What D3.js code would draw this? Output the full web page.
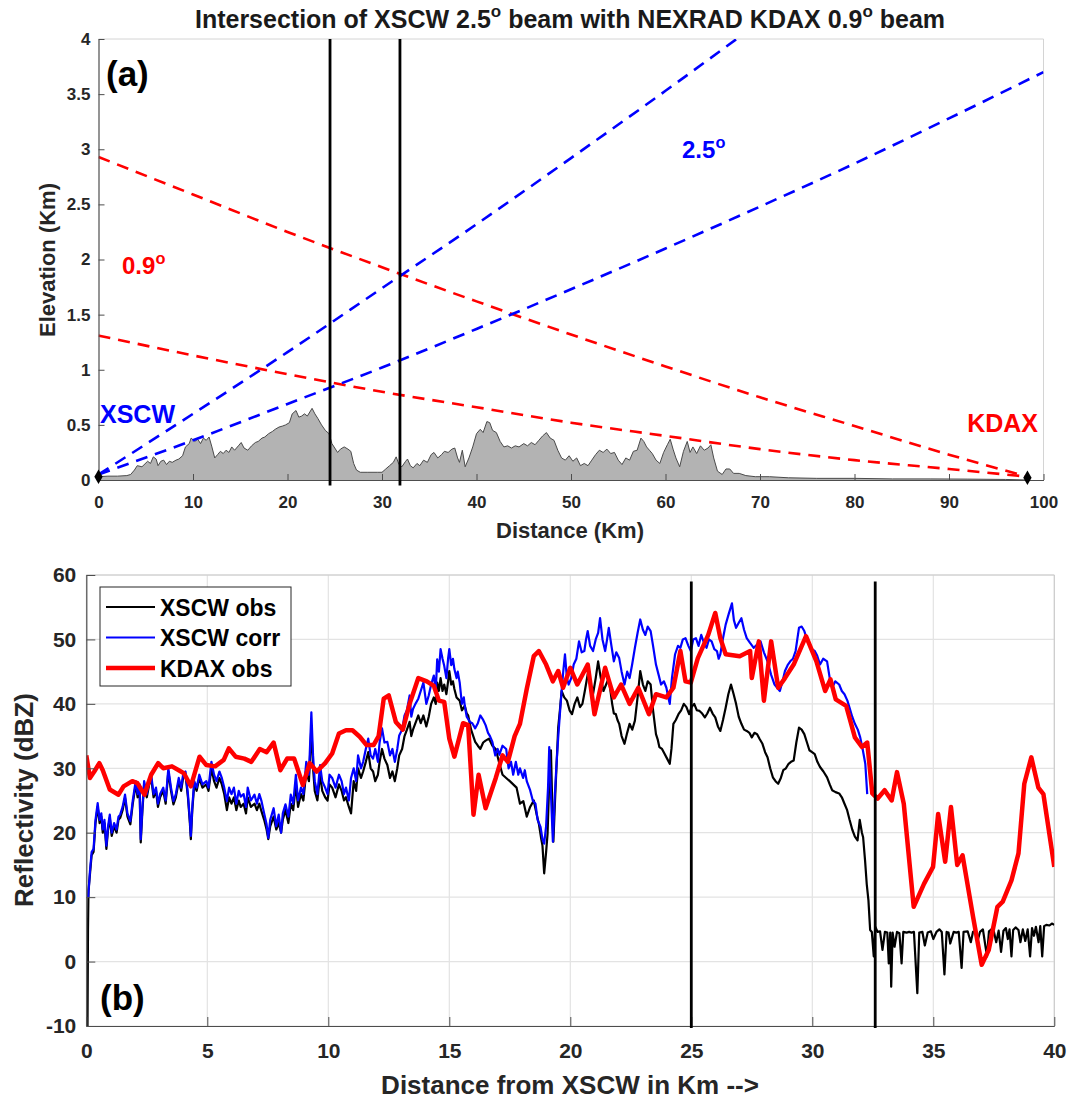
<html>

<head>
    <style>
        body { margin: 0; background: #fff; }
        text { font-family: Arial, "Liberation Sans", Helvetica, sans-serif; font-weight: bold; }
    </style>
</head>

<body>
    <svg id="chart" width="1067" height="1101"></svg>
</body>
<script src="https://d3js.org/d3.v7.min.js"></script>
<script>
    // ---------- panel (a): beam geometry ----------
    // terrain profile [km, elevation km]
    let terrain = [[0,0.03],[1,0.035],[2,0.035],[3,0.04],[3.4,0.05],[3.8,0.09],[4.1,0.13],[4.6,0.12],[5.2,0.17],[5.5,0.15],[5.8,0.21],[6.1,0.19],[6.3,0.13],[6.6,0.17],[6.9,0.18],[7.2,0.14],[7.5,0.17],[7.8,0.16],[8.2,0.18],[8.5,0.19],[8.9,0.22],[9.2,0.3],[9.6,0.33],[9.8,0.38],[10.2,0.35],[10.5,0.37],[10.8,0.33],[11.1,0.38],[11.4,0.36],[11.7,0.39],[12.0,0.3],[12.3,0.2],[12.6,0.23],[12.9,0.26],[13.2,0.24],[13.5,0.27],[13.8,0.25],[14.1,0.3],[14.4,0.27],[14.8,0.31],[15.1,0.34],[15.4,0.29],[15.8,0.27],[16.2,0.31],[16.6,0.34],[16.9,0.35],[17.3,0.38],[17.6,0.39],[18,0.42],[18.4,0.44],[18.7,0.46],[19.1,0.48],[19.5,0.49],[19.8,0.5],[20.2,0.52],[20.5,0.6],[20.9,0.63],[21.2,0.57],[21.5,0.58],[21.8,0.6],[22.1,0.58],[22.6,0.65],[22.9,0.6],[23.2,0.56],[23.6,0.5],[24,0.45],[24.4,0.42],[24.7,0.33],[25.0,0.29],[25.3,0.25],[25.6,0.28],[26.0,0.3],[26.4,0.28],[26.7,0.26],[27.0,0.15],[27.3,0.09],[27.7,0.07],[28.5,0.07],[29.5,0.07],[30.0,0.07],[30.4,0.1],[30.8,0.13],[31.2,0.16],[31.5,0.21],[31.8,0.14],[32.1,0.12],[32.5,0.17],[32.7,0.19],[33.0,0.13],[33.3,0.11],[33.7,0.15],[34.0,0.13],[34.4,0.18],[34.8,0.16],[35.2,0.23],[35.5,0.25],[35.9,0.2],[36.3,0.23],[36.6,0.26],[37.0,0.25],[37.4,0.28],[37.7,0.29],[38.0,0.2],[38.2,0.16],[38.5,0.27],[38.8,0.12],[39.2,0.2],[39.6,0.3],[40,0.42],[40.4,0.46],[40.7,0.43],[41.1,0.53],[41.4,0.52],[41.7,0.45],[42.1,0.43],[42.5,0.35],[42.9,0.3],[43.3,0.31],[43.7,0.29],[44.1,0.31],[44.5,0.3],[45,0.33],[45.4,0.31],[45.8,0.34],[46.2,0.32],[46.6,0.36],[47,0.4],[47.4,0.43],[47.8,0.38],[48.2,0.36],[48.6,0.27],[49,0.2],[49.4,0.18],[49.8,0.22],[50.2,0.17],[50.6,0.2],[51,0.13],[51.4,0.15],[51.8,0.13],[52.2,0.18],[52.6,0.23],[53,0.27],[53.4,0.25],[53.8,0.28],[54.2,0.24],[54.6,0.25],[55,0.18],[55.4,0.14],[55.8,0.2],[56.2,0.18],[56.6,0.26],[57,0.27],[57.4,0.38],[57.7,0.35],[58,0.3],[58.3,0.27],[58.6,0.24],[59,0.18],[59.4,0.15],[59.8,0.25],[60.2,0.32],[60.5,0.37],[60.8,0.28],[61.1,0.2],[61.5,0.12],[61.9,0.26],[62.3,0.35],[62.6,0.25],[62.9,0.3],[63.3,0.24],[63.7,0.31],[64.1,0.27],[64.5,0.29],[64.8,0.32],[65.1,0.2],[65.5,0.08],[66,0.05],[66.4,0.1],[66.8,0.1],[67.2,0.06],[67.8,0.06],[68.5,0.04],[69.5,0.03],[71,0.03],[73,0.02],[76,0.015],[80,0.015],[84,0.01],[88,0.01],[92,0.008],[96,0.005],[98.3,0.0]]

    // beam edges [km, elevation km]
    let xscwUpper = [[0,0.05],[10,0.60],[20,1.16],[30,1.74],[40,2.32],[50,2.92],[60,3.53],[68,4.03]]
    let xscwLower = [[0,0.05],[10,0.36],[20,0.69],[30,1.02],[40,1.37],[50,1.73],[60,2.10],[70,2.48],[80,2.87],[90,3.28],[100,3.70]]
    let kdaxUpper = [[0,2.93],[10,2.59],[20,2.25],[30,1.93],[40,1.62],[50,1.32],[60,1.03],[70,0.75],[80,0.49],[90,0.23],[98.3,0.03]]
    let kdaxLower = [[0,1.31],[10,1.13],[20,0.96],[30,0.80],[40,0.66],[50,0.52],[60,0.40],[70,0.28],[80,0.18],[90,0.10],[98.3,0.03]]

    let radarSites = [{ name: "XSCW", km: 0, elev: 0.03 }, { name: "KDAX", km: 98.3, elev: 0.02 }]
    let topCuts = [24.5, 31.9]
    let topCutSpan = [-0.05, 4]
    let topXTicks = [0, 10, 20, 30, 40, 50, 60, 70, 80, 90, 100]
    let topYTicks = [0, 0.5, 1, 1.5, 2, 2.5, 3, 3.5, 4]

    // ---------- panel (b): reflectivity ----------
    let xscwObs = [[0.05,-10],[0.07,5],[0.09,11],[0.15,13.5],[0.22,16.5],[0.3,17],[0.38,21.5],[0.47,24],[0.55,21.5],[0.62,22.5],[0.68,20],[0.75,21.5],[0.83,17.5],[0.9,20.5],[0.97,22.3],[1.05,19.5],[1.15,21],[1.25,20],[1.33,22],[1.4,22.3],[1.5,23.5],[1.6,25.4],[1.7,22.5],[1.82,21.3],[1.92,24.5],[2.04,27.5],[2.12,25.5],[2.2,27],[2.25,18.5],[2.32,23.5],[2.39,27.5],[2.5,25.5],[2.6,27.5],[2.68,28.5],[2.78,25.5],[2.88,26.5],[2.96,24],[3.05,25.5],[3.18,26.5],[3.28,24.5],[3.39,29.5],[3.5,26.5],[3.6,24.4],[3.7,25.5],[3.82,28],[3.92,26.5],[4.0,28.5],[4.1,29],[4.2,25.5],[4.28,21.5],[4.32,19],[4.38,23.5],[4.46,27.5],[4.56,26.5],[4.67,28.5],[4.8,27],[4.96,27.5],[5.05,26.5],[5.17,30],[5.28,28],[5.38,27],[5.5,28.5],[5.6,27.5],[5.7,26],[5.81,23.5],[5.9,25.5],[6.0,24.5],[6.1,25.5],[6.2,23.5],[6.3,25],[6.38,24],[6.5,24.5],[6.6,23],[6.67,25.5],[6.8,24],[6.95,24.5],[7.05,23.5],[7.15,24.5],[7.24,23.3],[7.35,22],[7.45,20.5],[7.52,19],[7.6,21],[7.74,22.5],[7.85,20.5],[7.95,21.5],[8.05,20],[8.12,22],[8.23,23.5],[8.35,21.5],[8.45,24.5],[8.55,23.5],[8.66,27.5],[8.75,24],[8.87,26],[8.97,25],[9.09,29.5],[9.2,28],[9.3,36.5],[9.37,30],[9.44,26.5],[9.55,25],[9.66,29],[9.75,26.5],[9.87,25.5],[9.97,25],[10.05,27.5],[10.16,27],[10.3,25.5],[10.44,27.5],[10.55,26.5],[10.65,25],[10.73,25.5],[10.85,24],[10.94,23],[11.05,28],[11.15,26.5],[11.23,30],[11.35,28.5],[11.44,29.5],[11.55,31],[11.65,32.5],[11.75,30],[11.85,29.5],[11.94,28],[12.05,29],[12.12,31],[12.22,33],[12.32,31.5],[12.44,30.5],[12.55,28.5],[12.65,29.5],[12.75,28],[12.85,30],[12.93,32],[13.05,33],[13.15,35],[13.25,36],[13.36,37.2],[13.43,35],[13.5,36],[13.6,37],[13.72,38.2],[13.82,37],[13.93,38.2],[14.05,36.5],[14.15,38],[14.25,40],[14.36,41],[14.44,40],[14.5,43.3],[14.57,42],[14.64,44],[14.72,42],[14.79,43],[14.88,41.5],[14.95,43.5],[15.0,45.1],[15.08,43],[15.15,43.5],[15.21,42.3],[15.3,41],[15.43,40.5],[15.52,39],[15.64,39.7],[15.72,38.5],[15.78,38.2],[15.9,36],[16.07,34.1],[16.18,33.5],[16.28,33],[16.4,34],[16.5,34.3],[16.64,34.6],[16.78,33.5],[16.92,33],[17.05,31],[17.2,29],[17.35,28.5],[17.5,28],[17.64,27.5],[17.78,27],[17.92,24.5],[18.06,24.9],[18.2,22.5],[18.34,24],[18.49,25],[18.6,23],[18.7,21.4],[18.8,19],[18.85,18],[18.92,13.7],[19.0,17],[19.06,19.8],[19.13,28],[19.2,32.8],[19.25,25],[19.3,18.6],[19.38,26],[19.5,36.3],[19.57,39],[19.64,42],[19.75,41],[19.86,40.5],[19.97,39],[20.07,38.4],[20.18,40],[20.29,41],[20.4,39.5],[20.5,40],[20.6,42],[20.72,44.6],[20.82,43],[20.94,41.5],[21.05,44],[21.15,46.6],[21.26,44],[21.37,42],[21.48,43],[21.59,44],[21.66,42],[21.73,40],[21.8,38.5],[21.88,38.4],[21.95,37.5],[22.02,36.9],[22.12,35],[22.24,33.8],[22.35,35.5],[22.45,36.9],[22.56,36],[22.67,37.4],[22.78,41],[22.89,45.1],[23.0,43],[23.1,42],[23.2,43.5],[23.32,43],[23.42,39],[23.54,35.3],[23.61,34.5],[23.68,33.3],[23.79,33],[23.9,32.2],[24.0,31.5],[24.11,30.7],[24.18,33],[24.26,36.9],[24.36,37.5],[24.47,38.4],[24.58,39],[24.69,40],[24.8,39.5],[24.91,38.4],[25.01,39.5],[25.12,40],[25.23,39],[25.34,38.9],[25.45,38.5],[25.56,37.9],[25.66,38.5],[25.77,39.4],[25.88,38.5],[25.99,37.9],[26.1,36.5],[26.2,35.8],[26.31,37.5],[26.42,39.4],[26.53,41.5],[26.64,43],[26.75,41.5],[26.85,40],[26.96,38],[27.07,36.9],[27.18,36],[27.29,35.8],[27.4,35.5],[27.5,34.8],[27.61,35.5],[27.72,35.3],[27.83,34.5],[27.94,33.8],[28.05,32.5],[28.15,31.7],[28.26,30],[28.37,28.6],[28.48,28],[28.59,27.6],[28.7,28.5],[28.8,29.7],[28.91,30],[29.02,30.7],[29.12,31],[29.23,31.2],[29.34,34],[29.45,36.3],[29.56,36],[29.67,35.3],[29.78,34],[29.88,32.8],[29.99,32.5],[30.1,32.2],[30.21,31],[30.32,30.2],[30.46,29.5],[30.61,28.6],[30.72,27.5],[30.82,26.6],[30.96,26.3],[31.11,26.1],[31.22,25.5],[31.33,24.5],[31.44,23.5],[31.54,22],[31.65,20.5],[31.76,19.4],[31.87,18.8],[31.96,22],[32.05,20],[32.1,19.3],[32.18,15.7],[32.25,12],[32.32,9.5],[32.39,4.9],[32.46,4.6],[32.54,0.8],[32.6,5.4],[32.7,4.6],[32.8,4.7],[32.9,1.8],[33.0,4.6],[33.1,4.5],[33.16,-0.3],[33.22,4.5],[33.26,-3.9],[33.32,4.5],[33.4,2.3],[33.5,4.6],[33.6,4.4],[33.69,-0.3],[33.76,4.6],[33.9,4.5],[34.0,4.6],[34.1,4.5],[34.2,4.6],[34.34,-4.9],[34.42,4.5],[34.55,4.6],[34.65,2.5],[34.77,4.5],[34.9,4.7],[35.0,3.5],[35.13,4.6],[35.25,5],[35.35,4.6],[35.46,-2],[35.55,4.6],[35.63,4.5],[35.7,2.8],[35.84,4.6],[35.95,4.5],[36.05,4.6],[36.17,-1],[36.25,4.6],[36.42,4.7],[36.55,3],[36.64,4.6],[36.75,4.7],[36.85,3.5],[36.93,4.6],[37.05,5],[37.15,2.5],[37.22,0.8],[37.3,4.7],[37.4,5],[37.5,4.7],[37.6,3],[37.7,4.8],[37.8,1.5],[37.9,4.8],[38.0,5.2],[38.08,3.5],[38.15,5],[38.23,0.8],[38.3,4.9],[38.4,5.3],[38.52,4.9],[38.6,3],[38.7,5],[38.8,3.2],[38.9,5],[39.0,0.8],[39.08,5.2],[39.16,4],[39.24,5.4],[39.35,3],[39.42,5.5],[39.5,0.8],[39.58,5.5],[39.67,5.7],[39.8,5.6],[39.9,5.9],[40,5.7]]

    let xscwCorr = [[0.08,10],[0.15,14],[0.22,17],[0.3,17.5],[0.38,22],[0.47,24.6],[0.55,22],[0.62,23],[0.68,20.5],[0.75,22],[0.83,18],[0.9,21],[0.97,22.8],[1.05,20],[1.15,21.5],[1.25,20.5],[1.33,22.5],[1.4,22.8],[1.5,24],[1.6,25.9],[1.7,23],[1.82,21.8],[1.92,25],[2.04,28],[2.12,26],[2.2,27.5],[2.25,19],[2.32,24],[2.39,28],[2.5,26],[2.6,28],[2.68,29],[2.78,26],[2.88,27],[2.96,24.5],[3.05,26],[3.18,27],[3.28,25],[3.39,30],[3.5,27],[3.6,24.9],[3.7,26],[3.82,28.5],[3.92,27],[4.0,29],[4.1,29.5],[4.2,26],[4.28,22],[4.32,19.5],[4.38,24],[4.46,28],[4.56,27],[4.67,29],[4.8,27.5],[4.96,28],[5.05,27],[5.17,31],[5.28,29],[5.38,28],[5.5,29.5],[5.6,28.5],[5.7,27],[5.81,24.9],[5.9,27],[6.0,26],[6.1,27],[6.2,24.5],[6.3,26.5],[6.38,25.6],[6.5,26],[6.6,24],[6.67,27],[6.8,25],[6.95,25.9],[7.05,24.5],[7.15,26],[7.24,24.9],[7.35,23],[7.45,21.3],[7.52,19.2],[7.6,22],[7.74,23.8],[7.85,21],[7.95,22.8],[8.05,20],[8.12,23],[8.23,24.4],[8.35,22.5],[8.45,25.9],[8.55,24.5],[8.66,29],[8.75,25],[8.87,27],[8.97,26],[9.09,31],[9.2,29],[9.3,38.7],[9.37,32],[9.44,28],[9.55,26],[9.66,30.5],[9.75,28],[9.87,27],[9.97,26],[10.05,29],[10.16,28.5],[10.3,27],[10.44,29],[10.55,28],[10.65,26],[10.73,27],[10.85,25],[10.94,28.5],[11.05,30],[11.15,28],[11.23,32],[11.35,30],[11.44,31],[11.55,33],[11.65,34.6],[11.75,32],[11.85,31.5],[11.94,33],[12.05,31],[12.12,34],[12.22,36.2],[12.32,34],[12.44,34.1],[12.55,32],[12.65,33],[12.75,31],[12.85,33],[12.93,35.1],[13.05,36],[13.15,38.2],[13.25,39],[13.36,41.3],[13.43,38],[13.5,39.2],[13.6,40],[13.72,40.8],[13.82,42],[13.93,43.3],[14.05,40],[14.15,41.3],[14.25,43],[14.36,44.4],[14.44,42],[14.5,46.9],[14.57,45],[14.64,48.5],[14.72,47],[14.79,45.9],[14.88,44],[14.95,47],[15.0,48.5],[15.08,46],[15.15,47],[15.21,45.4],[15.3,44],[15.35,45],[15.43,43.3],[15.52,40],[15.6,41],[15.64,39.7],[15.72,38],[15.85,37.2],[15.95,37],[16.07,36.2],[16.18,37],[16.28,38.2],[16.4,37.5],[16.5,36.7],[16.6,35.5],[16.68,35],[16.78,34.1],[16.9,32],[17.0,33],[17.07,32.1],[17.2,33.5],[17.35,33],[17.45,30],[17.55,31],[17.64,29],[17.75,31],[17.85,29],[17.92,30],[18.05,28.5],[18.12,29.7],[18.2,28],[18.34,26.6],[18.45,25],[18.56,24.5],[18.65,22],[18.77,20.9],[18.85,19],[18.92,18.3],[19.0,21],[19.08,27],[19.13,33.3],[19.2,26],[19.28,18.6],[19.35,25],[19.42,30],[19.5,34.8],[19.6,40],[19.71,45.1],[19.78,47.7],[19.86,44],[19.93,43],[20.04,44],[20.14,46.1],[20.25,47],[20.36,49.7],[20.47,48],[20.58,48.2],[20.65,50],[20.72,51.3],[20.82,49],[20.94,48.2],[21.05,50],[21.15,51],[21.23,53.3],[21.33,50],[21.44,48.2],[21.52,50],[21.59,51.8],[21.7,49],[21.8,46.6],[21.9,48],[22.02,47.1],[22.12,45],[22.24,43],[22.35,45],[22.45,44],[22.55,46],[22.67,48.7],[22.78,51],[22.89,53.1],[23.0,51.5],[23.1,50.7],[23.2,52],[23.32,51.3],[23.42,49],[23.54,46.1],[23.65,44.5],[23.75,43],[23.87,43.5],[23.97,42.5],[24.05,41],[24.11,40],[24.2,44],[24.33,47.7],[24.45,49],[24.55,48.7],[24.65,50],[24.76,50.2],[24.88,49],[24.98,48.2],[25.08,50],[25.19,50.2],[25.3,49],[25.41,50.7],[25.52,49.5],[25.63,48.7],[25.73,50],[25.84,49.7],[25.95,48.5],[26.06,48.2],[26.13,47],[26.2,47.7],[26.3,50],[26.42,52.3],[26.55,54],[26.68,55.6],[26.76,53],[26.85,51.8],[26.95,52.5],[27.07,53.3],[27.18,51.5],[27.29,50.2],[27.42,49.5],[27.58,48.7],[27.72,49.2],[27.86,49.7],[28.0,48],[28.15,46.6],[28.3,44.5],[28.44,43],[28.55,42.5],[28.66,42],[28.77,43.5],[28.87,45.1],[28.98,46],[29.09,46.6],[29.2,47],[29.31,48.2],[29.38,50],[29.45,51.8],[29.56,52],[29.67,51.3],[29.78,50],[29.88,49.2],[29.98,48.5],[30.1,48.2],[30.2,47.5],[30.32,46.1],[30.45,47],[30.61,46.6],[30.72,44],[30.82,42.5],[30.95,43.5],[31.11,43],[31.22,42],[31.33,41.5],[31.45,40.5],[31.54,39.4],[31.65,38],[31.76,36.9],[31.88,36],[31.98,34.8],[32.08,33],[32.19,30.7],[32.27,26]]

    let kdaxObs = [[0,32],[0.15,28.5],[0.33,29.5],[0.54,30.8],[0.68,29.7],[0.97,26.7],[1.33,25.9],[1.54,27.2],[1.9,28],[2.11,27.7],[2.4,25.9],[2.68,29],[2.97,30.8],[3.18,30],[3.54,30.3],[3.82,29.7],[4.04,29.2],[4.32,27.2],[4.68,31.8],[4.96,30.5],[5.32,30.3],[5.68,31.3],[5.89,33.1],[6.17,31.8],[6.53,31.5],[6.82,31],[7.17,33],[7.45,32.5],[7.74,34],[8.02,29.7],[8.3,31.5],[8.59,31.5],[8.95,27.4],[9.23,30.8],[9.52,29.5],[9.87,30.8],[10.16,32.3],[10.44,35.4],[10.73,35.9],[11.0,35.9],[11.3,34.9],[11.58,33.6],[11.87,33.6],[12.08,35],[12.29,40.8],[12.5,41.3],[12.79,37.2],[13.08,36],[13.36,40],[13.72,44],[14.07,43.5],[14.36,42.8],[14.57,40.5],[14.79,40.3],[15.0,34.6],[15.21,31.8],[15.57,37],[15.78,36.7],[16.0,22.8],[16.21,29],[16.5,23.8],[16.92,28.5],[17.2,32],[17.42,31],[17.7,35],[17.92,36.9],[18.2,42.3],[18.49,47.4],[18.7,48.2],[19.0,46.1],[19.28,43.5],[19.5,45.1],[19.7,42.5],[20.0,45.6],[20.29,43],[20.72,46.1],[21.0,38.4],[21.44,45.6],[21.8,41],[22.1,43],[22.45,40],[22.81,42.5],[23.25,38.4],[23.54,41.5],[23.97,41],[24.26,42.5],[24.55,48.2],[24.76,43.5],[24.98,43.3],[25.27,47.1],[25.7,50.7],[25.99,54.1],[26.2,50.2],[26.42,47.7],[27.0,47.4],[27.43,48.2],[27.5,44],[27.79,49.7],[28.0,40.5],[28.3,49.7],[28.59,42.5],[28.87,44],[29.23,46.1],[29.74,50.5],[30.17,46.6],[30.53,42],[30.75,43.8],[30.97,40.7],[31.4,39.7],[31.76,34.8],[32.05,33.3],[32.27,34],[32.48,26.1],[32.7,25.3],[32.99,26.6],[33.28,25],[33.5,29.4],[33.78,24.5],[34.19,8.5],[34.62,12.1],[34.99,14.7],[35.2,22.9],[35.49,15.5],[35.73,24],[35.99,15],[36.21,16.5],[36.64,7],[37.0,-0.5],[37.29,1.8],[37.65,8.5],[37.87,9.3],[38.23,12.6],[38.52,16.8],[38.76,27.6],[39.05,31.7],[39.34,27],[39.55,26],[40,14.7]]

    let bottomCuts = [25.0, 32.6]
    let bottomCutSpan = [-10.3, 59]
    let bottomXTicks = [0, 5, 10, 15, 20, 25, 30, 35, 40]
    let bottomYTicks = [-10, 0, 10, 20, 30, 40, 50, 60]

    let legendItems = [
        { label: "XSCW obs", color: "#000000", width: 2.2 },
        { label: "XSCW corr", color: "#0000ff", width: 2.2 },
        { label: "KDAX obs", color: "#ff0000", width: 4.5 }
    ]

    let svg = d3.select("#chart")
    let axisColor = "#4d4d4d"
    let textColor = "#262626"

    // helper: text with small raised "o" as degree sign
    function addDegreeText(sel, parts, size) {
        let shift = Math.round(size * 0.42)
        parts.forEach((p, i) => {
            let t = sel.append("tspan").text(p)
            if (i > 0) t.attr("dy", shift)
            if (i < parts.length - 1) {
                sel.append("tspan").attr("dy", -shift).attr("font-size", size * 0.68).text("o")
            }
        })
    }

    function styleAxis(g, size) {
        g.select(".domain").attr("stroke", axisColor).attr("stroke-width", 1.2)
        g.selectAll(".tick line").attr("stroke", axisColor)
        g.selectAll(".tick text").attr("fill", textColor).attr("font-size", size)
            .attr("font-family", "Arial, 'Liberation Sans', sans-serif").attr("font-weight", "bold")
    }

    // ================= panel (a) =================
    let xTop = d3.scaleLinear().domain([0, 100]).range([98.5, 1043.5])
    let yTop = d3.scaleLinear().domain([0, 4]).range([480, 39])

    svg.append("clipPath").attr("id", "clipTop")
        .append("rect")
        .attr("x", xTop(0)).attr("y", yTop(4))
        .attr("width", xTop(100) - xTop(0)).attr("height", yTop(0) - yTop(4))

    // light box on top/right
    svg.append("path")
        .attr("d", `M${xTop(0)},${yTop(4)}H${xTop(100)}V${yTop(0)}`)
        .attr("fill", "none").attr("stroke", "#d4d4d4").attr("stroke-width", 1)

    let topPlot = svg.append("g").attr("clip-path", "url(#clipTop)")

    topPlot.append("path")
        .datum(terrain)
        .attr("fill", "#b3b3b3")
        .attr("d", d3.area().x(d => xTop(d[0])).y0(yTop(0)).y1(d => yTop(d[1])))
    topPlot.append("path")
        .datum(terrain)
        .attr("fill", "none").attr("stroke", "#4a4a4a").attr("stroke-width", 1)
        .attr("d", d3.line().x(d => xTop(d[0])).y(d => yTop(d[1])))

    let beamLine = d3.line().curve(d3.curveMonotoneX).x(d => xTop(d[0])).y(d => yTop(d[1]))
    let beams = [
        { pts: kdaxUpper, color: "#ff0000" },
        { pts: kdaxLower, color: "#ff0000" },
        { pts: xscwUpper, color: "#0000ff" },
        { pts: xscwLower, color: "#0000ff" }
    ]
    topPlot.selectAll(".beam")
        .data(beams)
        .enter()
        .append("path")
        .attr("class", "beam")
        .attr("fill", "none")
        .attr("stroke", d => d.color)
        .attr("stroke-width", 2.6)
        .attr("stroke-dasharray", "12,8")
        .attr("d", d => beamLine(d.pts))

    // axes
    let xAxisTop = d3.axisBottom(xTop).tickValues(topXTicks).tickSizeInner(-6).tickSizeOuter(0).tickPadding(16).tickFormat(d => d)
    let yAxisTop = d3.axisLeft(yTop).tickValues(topYTicks).tickSizeInner(-6).tickSizeOuter(0).tickPadding(8).tickFormat(d => d)

    svg.append("g").attr("transform", `translate(0,${yTop(0)})`).call(xAxisTop).call(g => styleAxis(g, 17))
    svg.append("g").attr("transform", `translate(${xTop(0)},0)`).call(yAxisTop).call(g => styleAxis(g, 17))

    // vertical cut lines
    svg.selectAll(".cutTop")
        .data(topCuts)
        .enter()
        .append("line")
        .attr("class", "cutTop")
        .attr("x1", d => xTop(d)).attr("x2", d => xTop(d))
        .attr("y1", yTop(topCutSpan[0])).attr("y2", yTop(topCutSpan[1]))
        .attr("stroke", "#000").attr("stroke-width", 2.8)

    // radar sites
    svg.selectAll(".site")
        .data(radarSites)
        .enter()
        .append("path")
        .attr("class", "site")
        .attr("d", d3.symbol(d3.symbolDiamond).size(60))
        .attr("transform", d => `translate(${xTop(d.km)},${yTop(d.elev)})`)
        .attr("fill", "#000")

    // titles and labels
    let title = svg.append("text").attr("x", 570).attr("y", 28).attr("text-anchor", "middle")
        .attr("font-size", 25).attr("fill", "#1a1a1a")
    addDegreeText(title, ["Intersection of XSCW 2.5", " beam with NEXRAD KDAX 0.9", " beam"], 25)

    svg.append("text").attr("x", 570).attr("y", 538).attr("text-anchor", "middle")
        .attr("font-size", 22).attr("fill", textColor).text("Distance (Km)")
    svg.append("text").attr("transform", "translate(55,260) rotate(-90)").attr("text-anchor", "middle")
        .attr("font-size", 22).attr("fill", textColor).text("Elevation (Km)")

    svg.append("text").attr("x", 106).attr("y", 86).attr("font-size", 35).attr("fill", "#000").text("(a)")
    let lbl09 = svg.append("text").attr("x", 122).attr("y", 274).attr("font-size", 24).attr("fill", "#ff0000")
    addDegreeText(lbl09, ["0.9", ""], 24)
    let lbl25 = svg.append("text").attr("x", 682).attr("y", 158).attr("font-size", 24).attr("fill", "#0000ff")
    addDegreeText(lbl25, ["2.5", ""], 24)
    svg.append("text").attr("x", 100).attr("y", 423).attr("font-size", 25).attr("fill", "#0000ff").text("XSCW")
    svg.append("text").attr("x", 1038).attr("y", 432).attr("text-anchor", "end").attr("font-size", 25).attr("fill", "#ff0000").text("KDAX")

    // ================= panel (b) =================
    let xBot = d3.scaleLinear().domain([0, 40]).range([86.3, 1054.3])
    let yBot = d3.scaleLinear().domain([-10, 60]).range([1026, 575])

    svg.append("clipPath").attr("id", "clipBot")
        .append("rect")
        .attr("x", xBot(0)).attr("y", yBot(60))
        .attr("width", xBot(40) - xBot(0)).attr("height", yBot(-10) - yBot(60))

    // grid
    svg.append("g").selectAll("line")
        .data(bottomXTicks)
        .enter()
        .append("line")
        .attr("x1", d => xBot(d)).attr("x2", d => xBot(d))
        .attr("y1", yBot(-10)).attr("y2", yBot(60))
        .attr("stroke", "#e3e3e3").attr("stroke-width", 1.2)
    svg.append("g").selectAll("line")
        .data(bottomYTicks)
        .enter()
        .append("line")
        .attr("x1", xBot(0)).attr("x2", xBot(40))
        .attr("y1", d => yBot(d)).attr("y2", d => yBot(d))
        .attr("stroke", "#e3e3e3").attr("stroke-width", 1.2)

    svg.append("path")
        .attr("d", `M${xBot(0)},${yBot(60)}H${xBot(40)}V${yBot(-10)}`)
        .attr("fill", "none").attr("stroke", "#c8c8c8").attr("stroke-width", 1)

    let botPlot = svg.append("g").attr("clip-path", "url(#clipBot)")
    let refLine = d3.line().x(d => xBot(d[0])).y(d => yBot(d[1]))

    botPlot.append("path").datum(xscwObs)
        .attr("fill", "none").attr("stroke", "#000").attr("stroke-width", 2.2).attr("stroke-linejoin", "round")
        .attr("d", refLine)
    botPlot.append("path").datum(xscwCorr)
        .attr("fill", "none").attr("stroke", "#0000ff").attr("stroke-width", 2.2).attr("stroke-linejoin", "round")
        .attr("d", refLine)
    botPlot.append("path").datum(kdaxObs)
        .attr("fill", "none").attr("stroke", "#ff0000").attr("stroke-width", 4.5).attr("stroke-linejoin", "round")
        .attr("d", refLine)

    let xAxisBot = d3.axisBottom(xBot).tickValues(bottomXTicks).tickSizeInner(-9).tickSizeOuter(0).tickPadding(17).tickFormat(d => d)
    let yAxisBot = d3.axisLeft(yBot).tickValues(bottomYTicks).tickSizeInner(-9).tickSizeOuter(0).tickPadding(10).tickFormat(d => d)
    svg.append("g").attr("transform", `translate(0,${yBot(-10)})`).call(xAxisBot).call(g => styleAxis(g, 21))
    svg.append("g").attr("transform", `translate(${xBot(0)},0)`).call(yAxisBot).call(g => styleAxis(g, 21))

    svg.selectAll(".cutBot")
        .data(bottomCuts)
        .enter()
        .append("line")
        .attr("class", "cutBot")
        .attr("x1", d => xBot(d)).attr("x2", d => xBot(d))
        .attr("y1", yBot(bottomCutSpan[0])).attr("y2", yBot(bottomCutSpan[1]))
        .attr("stroke", "#000").attr("stroke-width", 2.8)

    // legend
    let legend = svg.append("g").attr("transform", "translate(100,587)")
    legend.append("rect").attr("width", 191).attr("height", 99)
        .attr("fill", "#fff").attr("stroke", "#262626").attr("stroke-width", 1)
    let rows = legend.selectAll(".row")
        .data(legendItems)
        .enter()
        .append("g")
        .attr("class", "row")
        .attr("transform", (d, i) => `translate(0,${20 + i * 30.5})`)
    rows.append("line")
        .attr("x1", 6).attr("x2", 55).attr("y1", 0).attr("y2", 0)
        .attr("stroke", d => d.color).attr("stroke-width", d => d.width)
    rows.append("text")
        .attr("x", 60).attr("y", 8.5)
        .attr("font-size", 23).attr("fill", "#000")
        .text(d => d.label)

    svg.append("text").attr("x", 100).attr("y", 1010).attr("font-size", 35).attr("fill", "#000").text("(b)")
    svg.append("text").attr("x", 570).attr("y", 1094).attr("text-anchor", "middle")
        .attr("font-size", 26).attr("fill", textColor).text("Distance from XSCW in Km -->")
    svg.append("text").attr("transform", "translate(33,800) rotate(-90)").attr("text-anchor", "middle")
        .attr("font-size", 26).attr("fill", textColor).text("Reflectivity (dBZ)")
</script>

</html>
